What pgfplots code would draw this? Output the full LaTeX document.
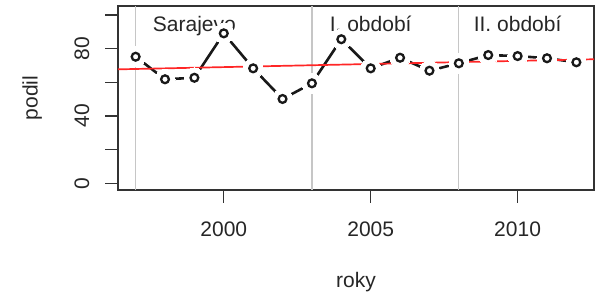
\documentclass[border=0pt]{standalone}
\usepackage{fontspec}
\setmainfont{Liberation Sans}
\usepackage{pgfplots}
\pgfplotsset{compat=1.18}
\pgfplotstableread{
x y
1997 75.2
1998 61.8
1999 62.7
2000 89.1
2001 68.3
2002 50.1
2003 59.4
2004 85.6
2005 68.3
2006 74.6
2007 66.9
2008 71.3
2009 76.2
2010 75.6
2011 74.3
2012 71.9
}\podil
\begin{document}
\begin{tikzpicture}[x=1pt,y=1pt]
\begin{axis}[
  at={(118pt,104pt)}, anchor=south west,
  width=476pt, height=184pt, scale only axis,
  xmin=1996.4, xmax=2012.6, ymin=-4, ymax=105.35,
  axis line style={black!80, line width=1.4pt},
  xtick={2000,2005,2010}, ytick={0,20,40,60,80,100},
  yticklabels={0,,40,,80,},
  tick align=outside, tick pos=left,
  major tick length=13pt,
  every tick/.style={black!80, line width=1.4pt},
  /pgf/number format/assume math mode=true,
  /pgf/number format/1000 sep={},
  tick label style={font=\fontsize{21}{25}\selectfont, text=black!85, inner sep=0pt},
  xticklabel style={anchor=base},
  xticklabel shift=33.7pt,
  yticklabel style={rotate=90, anchor=base},
  yticklabel shift=16pt,
  xlabel={roky}, ylabel={podil},
  label style={font=\fontsize{21}{25}\selectfont, text=black!85, inner sep=0pt},
  xlabel style={at={(axis description cs:0.5,-0.5272)}, anchor=base},
  ylabel style={at={(axis description cs:-0.1691,0.5)}, anchor=base},
  clip=false,
]
\addplot[black!90, line width=2.6pt, line cap=butt] table[x=x,y=y] {\podil};
\addplot[white, only marks, mark=*, mark size=10pt, mark options={draw=white, fill=white, line width=0pt}] table[x=x,y=y] {\podil};
\addplot[black, only marks, mark=o, mark size=3.9pt, mark options={draw=black!90, line width=2.3pt}] table[x=x,y=y] {\podil};
\addplot[gray!45, line width=1.3pt] coordinates {(1997,-4) (1997,105.35)};
\addplot[gray!45, line width=1.3pt] coordinates {(2003,-4) (2003,105.35)};
\addplot[gray!45, line width=1.3pt] coordinates {(2008,-4) (2008,105.35)};
\addplot[red!85!white, line width=1.7pt] coordinates {(1996.4,67.7) (2012.6,73.7)};
\node[font=\fontsize{21}{25}\selectfont, text=black!85, anchor=base] at (axis cs:1999,90) {Sarajevo};
\node[font=\fontsize{21}{25}\selectfont, text=black!85, anchor=base] at (axis cs:2005,90) {I. období};
\node[font=\fontsize{21}{25}\selectfont, text=black!85, anchor=base] at (axis cs:2010,90) {II. období};
\end{axis}
\pgfresetboundingbox
\path[use as bounding box] (0,0) rectangle (598,294);
\end{tikzpicture}
\end{document}
